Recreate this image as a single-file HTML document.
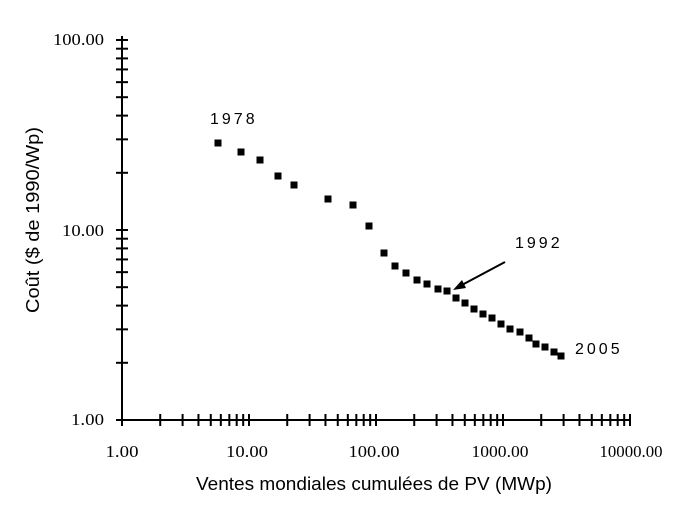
<!DOCTYPE html>
<html><head><meta charset="utf-8"><style>
html,body{margin:0;padding:0;background:#fff;width:700px;height:524px;overflow:hidden}
svg text{font-family:"Liberation Sans",sans-serif;fill:#000}
.s{font-family:"Liberation Serif",serif;font-size:17px}
</style></head><body>
<svg id="g" width="700" height="524" xmlns="http://www.w3.org/2000/svg">
<line x1="122" y1="36" x2="122" y2="421" stroke="#000" stroke-width="2"/>
<line x1="121" y1="420" x2="630" y2="420" stroke="#000" stroke-width="2"/>
<text class="s" x="104" y="45" text-anchor="end" textLength="51" lengthAdjust="spacingAndGlyphs" style="font-family:'Liberation Serif',serif">100.00</text>
<text class="s" x="104" y="236" text-anchor="end" textLength="42" lengthAdjust="spacingAndGlyphs" style="font-family:'Liberation Serif',serif">10.00</text>
<text class="s" x="104" y="425" text-anchor="end" textLength="33" lengthAdjust="spacingAndGlyphs" style="font-family:'Liberation Serif',serif">1.00</text>
<text class="s" x="122" y="457" text-anchor="middle" textLength="33" lengthAdjust="spacingAndGlyphs" style="font-family:'Liberation Serif',serif">1.00</text>
<text class="s" x="247" y="457" text-anchor="middle" textLength="42" lengthAdjust="spacingAndGlyphs" style="font-family:'Liberation Serif',serif">10.00</text>
<text class="s" x="374" y="457" text-anchor="middle" textLength="51" lengthAdjust="spacingAndGlyphs" style="font-family:'Liberation Serif',serif">100.00</text>
<text class="s" x="500" y="457" text-anchor="middle" textLength="57" lengthAdjust="spacingAndGlyphs" style="font-family:'Liberation Serif',serif">1000.00</text>
<text class="s" x="631" y="457" text-anchor="middle" textLength="63" lengthAdjust="spacingAndGlyphs" style="font-family:'Liberation Serif',serif">10000.00</text>
<text x="374" y="490" font-size="18" text-anchor="middle" textLength="356" lengthAdjust="spacingAndGlyphs">Ventes mondiales cumulées de PV (MWp)</text>
<text transform="translate(39,220) rotate(-90)" font-size="18" text-anchor="middle" textLength="186" lengthAdjust="spacingAndGlyphs">Coût ($ de 1990/Wp)</text>
<text x="210" y="124" font-size="16" letter-spacing="3">1978</text>
<text x="515" y="248" font-size="16" letter-spacing="3">1992</text>
<text x="575" y="354" font-size="16" letter-spacing="3">2005</text>
<line x1="505" y1="262" x2="460" y2="286" stroke="#000" stroke-width="2"/>
<polygon points="453,290 462,280 466,288" fill="#000"/>
</svg>
<script>
var g=document.getElementById('g'),ns="http://www.w3.org/2000/svg";
function L(a,b,c,d){var l=document.createElementNS(ns,'line');l.setAttribute('x1',a);l.setAttribute('y1',b);l.setAttribute('x2',c);l.setAttribute('y2',d);l.setAttribute('stroke','#000');l.setAttribute('stroke-width','2');g.appendChild(l);}
for(var dec=0;dec<2;dec++)for(var k=1;k<=10;k++){var y=420-190*(dec+Math.log10(k));L(116,y,128,y);}
for(var dec=0;dec<4;dec++)for(var k=1;k<=10;k++){var x=122+127*(dec+Math.log10(k));L(x,414,x,426);}
var p=[[218,143],[241,152],[260,160],[278,176],[294,185],[328,199],[353,205],[369,226],[384,253],[395,266],[406,273],[417,280],[427,284],[438,289],[447,291],[456,298],[465,303],[474,309],[483,314],[492,318],[501,324],[510,329],[520,332],[529,338],[536,344],[545,347],[554,352],[561,356]];
p.forEach(function(q){var r=document.createElementNS(ns,'rect');r.setAttribute('x',q[0]-3.5);r.setAttribute('y',q[1]-3.5);r.setAttribute('width',7);r.setAttribute('height',7);g.appendChild(r);});
</script>
</body></html>
